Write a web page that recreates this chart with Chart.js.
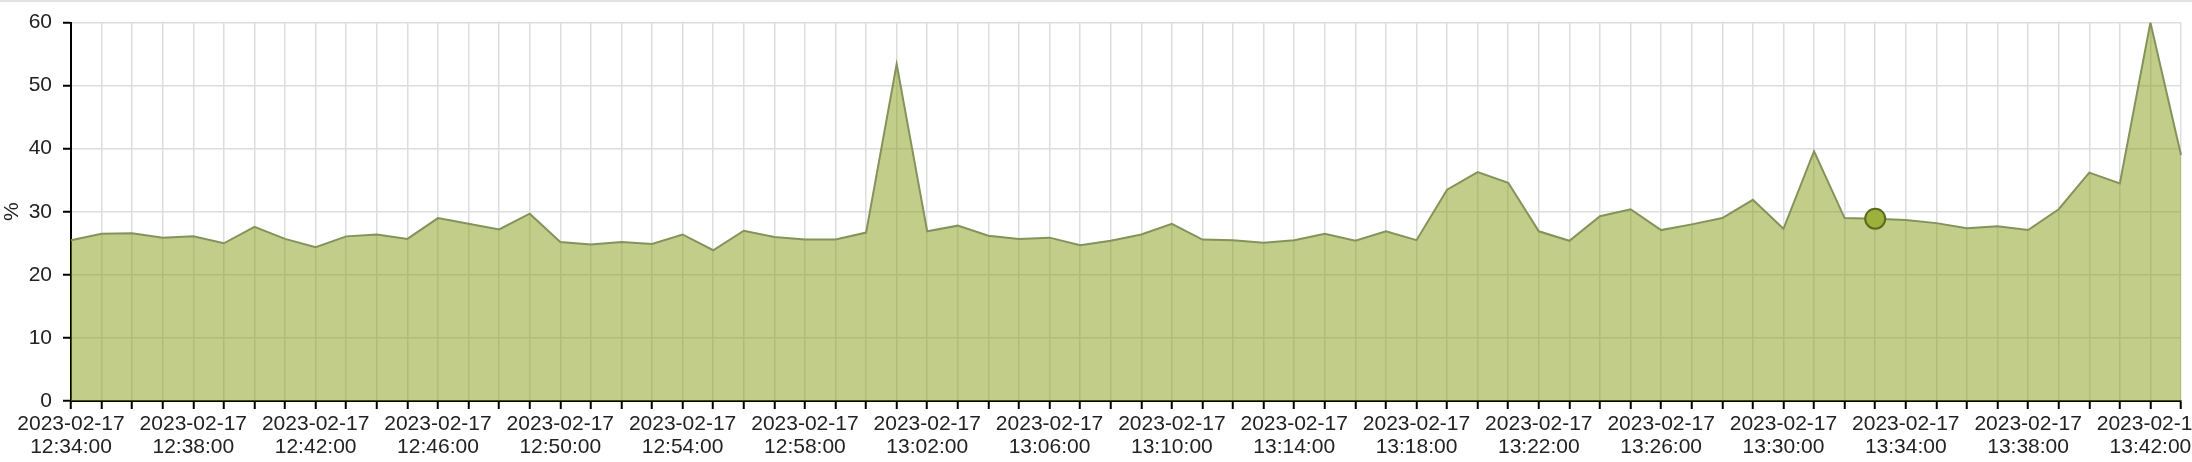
<!DOCTYPE html>
<html>
<head>
<meta charset="utf-8">
<script src="https://cdn.jsdelivr.net/npm/chart.js@4/dist/chart.umd.min.js"></script>
<style>
  html, body { margin: 0; padding: 0; background: #fff; }
  .wrap { position: relative; width: 2192px; height: 462px; }
  .wrap:before { content: ''; position: absolute; left: 0; top: 0; width: 2192px; height: 2px; background: #e2e2e2; }
  canvas { display: block; }
</style>
</head>
<body>
<div class="wrap"><canvas id="myChart" width="2192" height="462"></canvas></div>
<script>
const dateLabel = '2023-02-17'
const times = [
  '12:34:00','12:35:00','12:36:00','12:37:00','12:38:00','12:39:00','12:40:00','12:41:00','12:42:00','12:43:00',
  '12:44:00','12:45:00','12:46:00','12:47:00','12:48:00','12:49:00','12:50:00','12:51:00','12:52:00','12:53:00',
  '12:54:00','12:55:00','12:56:00','12:57:00','12:58:00','12:59:00','13:00:00','13:01:00','13:02:00','13:03:00',
  '13:04:00','13:05:00','13:06:00','13:07:00','13:08:00','13:09:00','13:10:00','13:11:00','13:12:00','13:13:00',
  '13:14:00','13:15:00','13:16:00','13:17:00','13:18:00','13:19:00','13:20:00','13:21:00','13:22:00','13:23:00',
  '13:24:00','13:25:00','13:26:00','13:27:00','13:28:00','13:29:00','13:30:00','13:31:00','13:32:00','13:33:00',
  '13:34:00','13:35:00','13:36:00','13:37:00','13:38:00','13:39:00','13:40:00','13:41:00','13:42:00','13:43:00'
]
const usage = [
  25.5, 26.5, 26.6, 25.9, 26.1, 25.0, 27.6, 25.7, 24.4, 26.1,
  26.4, 25.7, 29.0, 28.1, 27.2, 29.7, 25.2, 24.8, 25.2, 24.9,
  26.4, 23.9, 27.0, 26.0, 25.6, 25.6, 26.7, 53.4, 26.9, 27.8,
  26.2, 25.7, 25.9, 24.7, 25.4, 26.4, 28.1, 25.6, 25.5, 25.1,
  25.5, 26.5, 25.4, 26.9, 25.5, 33.5, 36.3, 34.6, 26.9, 25.4,
  29.3, 30.4, 27.1, 28.0, 29.0, 31.9, 27.3, 39.6, 29.0, 28.9,
  28.7, 28.2, 27.4, 27.7, 27.1, 30.4, 36.2, 34.5, 60.0, 39.0
]
const yTicks = [0, 10, 20, 30, 40, 50, 60]
const labelEvery = 4
const hoverIndex = 59

const font = { family: '"Liberation Sans", Arial, Helvetica, sans-serif', size: 21, lineHeight: 1.1 }

const ctx = document.getElementById('myChart').getContext('2d')
const myChart = new Chart(ctx, {
  type: 'line',
  data: {
    labels: times,
    datasets: [{
      label: '%',
      data: usage,
      borderColor: '#83935a',
      borderWidth: 2,
      backgroundColor: 'rgba(133,155,21,0.5)',
      fill: 'origin',
      tension: 0,
      pointRadius: c => c.dataIndex === hoverIndex ? 10 : 0,
      pointBackgroundColor: '#9cb03c',
      pointBorderColor: '#5b6a1f',
      pointBorderWidth: 2
    }]
  },
  options: {
    responsive: false,
    animation: false,
    layout: { padding: { top: 8, right: 11, left: 0, bottom: 0 } },
    plugins: {
      legend: { display: false },
      tooltip: { enabled: false }
    },
    scales: {
      x: {
        afterFit: axis => { axis.height = 61 },
        grid: { color: '#dddddd', lineWidth: 1.5, tickColor: '#000', tickLength: 8, tickWidth: 2 },
        border: { color: '#000', width: 2 },
        ticks: {
          color: '#222',
          font: font,
          padding: 4,
          maxRotation: 0,
          autoSkip: false,
          callback: function(value, index) {
            return index % labelEvery === 0 ? [dateLabel, times[index]] : ''
          }
        }
      },
      y: {
        min: yTicks[0],
        max: yTicks[yTicks.length - 1],
        afterFit: axis => { axis.width = 71 },
        grid: { color: '#dddddd', lineWidth: 1.5, tickColor: '#000', tickLength: 8, tickWidth: 2 },
        border: { color: '#000', width: 2 },
        afterBuildTicks: axis => { axis.ticks = yTicks.map(v => ({ value: v })) },
        ticks: { color: '#222', font: font, padding: 11 },
        title: { display: true, text: '%', color: '#222', font: font, padding: 1 }
      }
    }
  }
})
</script>
</body>
</html>
